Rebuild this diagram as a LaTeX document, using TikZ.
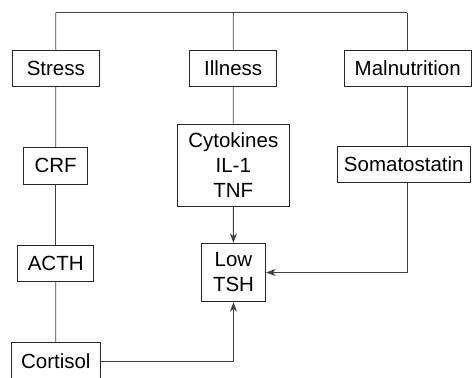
\documentclass[tikz,border=0pt]{standalone}
\usepackage{fontspec}
\setmainfont{Liberation Sans}
\usetikzlibrary{arrows.meta}
\begin{document}
\begin{tikzpicture}[x=1pt,y=-1pt,
  box/.style={draw=black!85,line width=0.9pt,inner sep=0pt,align=center,
    font=\fontsize{20.5}{25}\selectfont},
  link/.style={draw=black!75,line width=0.9pt},
  arr/.style={link,-{Stealth[length=9.5pt,width=7pt,inset=3pt]}}]
\useasboundingbox (0,0) rectangle (473,377);
\clip (0,0) rectangle (473,377);
% top bar feeding the three causes
\coordinate (topL) at (55.7,12.7);
\coordinate (topM) at (233.3,12.7);
\coordinate (topR) at (407.3,12.7);
% cause boxes
\node[box,minimum width=87pt,minimum height=36.7pt] (stress) at (55.8,68.4) {Stress};
\node[box,minimum width=87pt,minimum height=36.7pt] (ill) at (233.2,68.4) {Illness};
\node[box,minimum width=127.3pt,minimum height=36.7pt] (mal) at (407.7,68.4) {Malnutrition};
% mediators
\node[box,minimum width=64pt,minimum height=36.7pt] (crf) at (55.7,165.7) {CRF};
\node[box,minimum width=112pt,minimum height=82pt] (cyto) at (233.3,165) {Cytokines\\IL-1\\TNF};
\node[box,minimum width=132.3pt,minimum height=36.7pt] (soma) at (403.8,164.3) {Somatostatin};
\node[box,minimum width=76pt,minimum height=36.7pt] (acth) at (55.7,263.3) {ACTH};
\node[box,minimum width=64.4pt,minimum height=58.4pt] (tsh) at (233.5,272.5) {Low\\TSH};
\node[box,minimum width=89pt,minimum height=36.7pt] (cort) at (55.8,361) {Cortisol};
% connectors
\draw[link] (topL) -- (topR);
\draw[link] (topL) -- (stress.north);
\draw[link] (topM) -- (ill.north);
\draw[link] (topR) -- (mal.north -| topR);
\draw[link] (stress) -- (crf);
\draw[link] (crf) -- (acth);
\draw[link] (acth) -- (cort);
\draw[link] (ill) -- (cyto);
\draw[link] (mal.south -| topR) -- (soma.north -| topR);
\draw[arr] (cyto) -- (tsh);
\draw[arr] (soma.south -| topR) |- (tsh.east);
\draw[arr] (cort.east) -| (tsh.south);
\end{tikzpicture}
\end{document}
